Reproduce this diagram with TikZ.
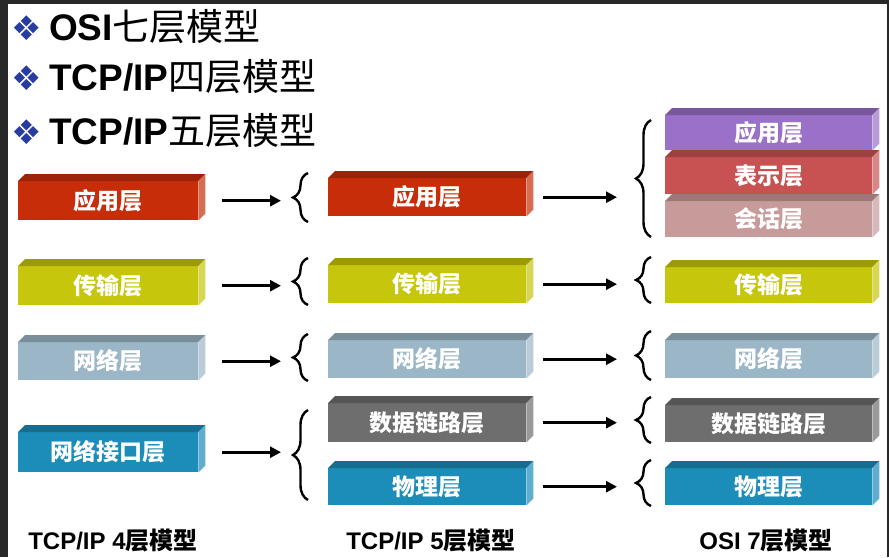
\documentclass[tikz,border=0pt]{standalone}
\usepackage{fontspec}
\setmainfont{Liberation Sans}
\newfontfamily\cjk{Noto Sans CJK SC}
\newfontfamily\symb{DejaVu Sans}
\usetikzlibrary{arrows.meta,decorations.pathreplacing}

\definecolor{appred}{RGB}{200,45,10}
\definecolor{transyel}{RGB}{198,198,12}
\definecolor{netgray}{RGB}{155,182,198}
\definecolor{phyblue}{RGB}{28,140,185}
\definecolor{linkgray}{RGB}{110,110,110}
\definecolor{osipurple}{RGB}{155,112,200}
\definecolor{presred}{RGB}{200,82,82}
\definecolor{sesspink}{RGB}{200,155,155}
\definecolor{bulletblue}{RGB}{40,60,160}
\definecolor{framedark}{RGB}{40,40,40}

\begin{document}
\begin{tikzpicture}[x=1pt, y=-1pt,
    layer/.style={fill=#1, inner sep=0pt, anchor=north west, text=white,
      font=\cjk\bfseries\fontsize{23}{26}\selectfont},
    title/.style={anchor=west, inner sep=0pt, font=\bfseries\fontsize{37}{40}\selectfont},
    caption/.style={inner sep=0pt, font=\bfseries\fontsize{24}{26}\selectfont},
    bullet/.style={inner sep=0pt, text=bulletblue, font=\symb\fontsize{34}{36}\selectfont},
    arr/.style={line width=2.6pt, -{Triangle[length=11pt,width=11pt]}},
    brc/.style={line width=2.4pt, decorate, decoration={brace, amplitude=15pt}}]

  % Frame of the screenshot
  \useasboundingbox (0,0) rectangle (889,557);
  \fill[framedark] (0,0) rectangle (889,557);
  \fill[white] (8,4) rectangle (887,557);

  % Titles
  \node[bullet] (b1) at (27,28) {❖};
  \node[title] (t1) at (49,27) {OSI{\cjk\mdseries 七层模型}};
  \node[bullet] (b2) at (27,78) {❖};
  \node[title] (t2) at (49,77) {TCP/IP{\cjk\mdseries 四层模型}};
  \node[bullet] (b3) at (27,132) {❖};
  \node[title] (t3) at (49,131) {TCP/IP{\cjk\mdseries 五层模型}};

  % TCP/IP 4 layers
  \node[layer=appred,   minimum width=180pt, minimum height=39pt] (c1a) at (18,181) {应用层};
  \node[layer=transyel, minimum width=180pt, minimum height=39pt] (c1b) at (18,266) {传输层};
  \node[layer=netgray,  minimum width=180pt, minimum height=38pt] (c1c) at (18,342) {网络层};
  \node[layer=phyblue,  minimum width=180pt, minimum height=40pt] (c1d) at (18,432) {网络接口层};

  % TCP/IP 5 layers
  \node[layer=appred,   minimum width=198pt, minimum height=38pt] (c2a) at (328,178) {应用层};
  \node[layer=transyel, minimum width=198pt, minimum height=38pt] (c2b) at (328,265) {传输层};
  \node[layer=netgray,  minimum width=198pt, minimum height=38pt] (c2c) at (328,340) {网络层};
  \node[layer=linkgray, minimum width=198pt, minimum height=39pt] (c2d) at (328,403) {数据链路层};
  \node[layer=phyblue,  minimum width=198pt, minimum height=37pt] (c2e) at (328,468) {物理层};

  % OSI 7 layers
  \node[layer=osipurple, minimum width=207pt, minimum height=35pt] (c3a) at (665,115) {应用层};
  \node[layer=presred,   minimum width=207pt, minimum height=37pt] (c3b) at (665,157) {表示层};
  \node[layer=sesspink,  minimum width=207pt, minimum height=36pt] (c3c) at (665,201) {会话层};
  \node[layer=transyel,  minimum width=207pt, minimum height=36pt] (c3d) at (665,267) {传输层};
  \node[layer=netgray,   minimum width=207pt, minimum height=38pt] (c3e) at (665,340) {网络层};
  \node[layer=linkgray,  minimum width=207pt, minimum height=37pt] (c3f) at (665,405) {数据链路层};
  \node[layer=phyblue,   minimum width=207pt, minimum height=37pt] (c3g) at (665,468) {物理层};

  % Top and side faces
  \foreach \n/\c in {c1a/appred, c1b/transyel, c1c/netgray, c1d/phyblue,
                     c2a/appred, c2b/transyel, c2c/netgray, c2d/linkgray, c2e/phyblue,
                     c3a/osipurple, c3b/presred, c3c/sesspink, c3d/transyel,
                     c3e/netgray, c3f/linkgray, c3g/phyblue} {
    \fill[\c!78!black] (\n.north west) -- ++(7pt,7pt)
      -- ([shift={(7pt,7pt)}]\n.north east) -- (\n.north east) -- cycle;
    \fill[\c!70!white] (\n.north east) -- ++(7pt,7pt)
      -- ([shift={(7pt,7pt)}]\n.south east) -- (\n.south east) -- cycle;
  }

  % Braces before the 5 layers
  \draw[brc] (308,222) -- (308,173);
  \coordinate (br2a) at (292,197);
  \draw[brc] (308,305) -- (308,258);
  \coordinate (br2b) at (292,282);
  \draw[brc] (308,381) -- (308,334);
  \coordinate (br2c) at (292,357);
  \draw[brc] (308,500) -- (308,410);
  \coordinate (br2d) at (292,455);

  % Braces before the 7 layers
  \draw[brc] (651,237) -- (651,120);
  \coordinate (br3a) at (634,178);
  \draw[brc] (651,303) -- (651,257);
  \coordinate (br3b) at (634,280);
  \draw[brc] (651,380) -- (651,331);
  \coordinate (br3c) at (634,355);
  \draw[brc] (651,443) -- (651,397);
  \coordinate (br3d) at (634,420);
  \draw[brc] (651,506) -- (651,460);
  \coordinate (br3e) at (634,483);

  % Arrows
  \draw[arr, shorten <=24pt, shorten >=11pt] (c1a.east) -- (c1a.east -| br2a);
  \draw[arr, shorten <=24pt, shorten >=11pt] (c1b.east) -- (c1b.east -| br2b);
  \draw[arr, shorten <=24pt, shorten >=11pt] (c1c.east) -- (c1c.east -| br2c);
  \draw[arr, shorten <=24pt, shorten >=11pt] (c1d.east) -- (c1d.east -| br2d);
  \draw[arr, shorten <=17pt, shorten >=17pt] (c2a.east) -- (c2a.east -| br3a);
  \draw[arr, shorten <=17pt, shorten >=17pt] (c2b.east) -- (c2b.east -| br3b);
  \draw[arr, shorten <=17pt, shorten >=17pt] (c2c.east) -- (c2c.east -| br3c);
  \draw[arr, shorten <=17pt, shorten >=17pt] (c2d.east) -- (c2d.east -| br3d);
  \draw[arr, shorten <=17pt, shorten >=17pt] (c2e.east) -- (c2e.east -| br3e);

  % Captions
  \node[caption] (l1) at (113,541) {TCP/IP 4{\cjk 层模型}};
  \node[caption] (l2) at (431,541) {TCP/IP 5{\cjk 层模型}};
  \node[caption] (l3) at (766,541) {OSI 7{\cjk 层模型}};
\end{tikzpicture}
\end{document}
